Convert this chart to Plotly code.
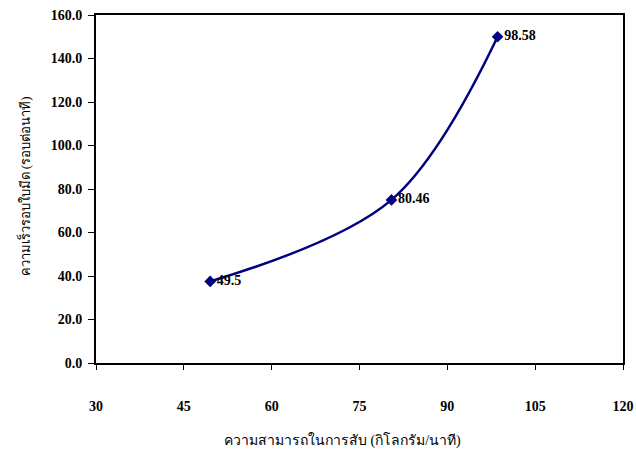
import plotly.graph_objects as go

capacity = [49.5, 80.46, 98.58]
speed = [37.5, 75.0, 150.0]
point_labels = ["49.5", "80.46", "98.58"]
x_ticks = [30, 45, 60, 75, 90, 105, 120]
y_ticks = [0, 20, 40, 60, 80, 100, 120, 140, 160]
y_tick_text = [f"{v:.1f}" for v in y_ticks]
x_title = "ความสามารถในการสับ (กิโลกรัม/นาที)"
y_title = "ความเร็วรอบใบมีด (รอบต่อนาที)"

navy = "#000080"
serif = "Times New Roman, Liberation Serif, serif"

fig = go.Figure()
fig.add_trace(go.Scatter(
    x=capacity, y=speed, mode="lines+markers+text",
    line=dict(color=navy, width=2.5, shape="spline", smoothing=1.0),
    marker=dict(symbol="diamond", size=9, color=navy),
    text=point_labels, textposition="middle right",
    textfont=dict(family=serif, size=14, color="black", weight="bold"),
    cliponaxis=False, showlegend=False,
))

fig.update_layout(
    width=636, height=457,
    margin=dict(l=96, r=13, t=15, b=94, autoexpand=False),
    paper_bgcolor="white", plot_bgcolor="white",
    font=dict(family=serif, color="black"),
    annotations=[
        dict(text=x_title, xref="paper", yref="paper", x=0.4668, y=-0.2213,
             xanchor="center", yanchor="middle", showarrow=False,
             font=dict(family=serif, size=14, color="black")),
        dict(text=y_title, xref="paper", yref="paper", x=-0.135, y=0.507,
             xanchor="center", yanchor="middle", showarrow=False, textangle=-90,
             font=dict(family=serif, size=13, color="black")),
    ],
)
fig.update_xaxes(
    range=[30, 120], tickvals=x_ticks, ticktext=[str(v) for v in x_ticks],
    showgrid=False, zeroline=False, showline=True, linecolor="black",
    linewidth=2, mirror=True, ticks="outside", ticklen=5, tickwidth=1,
    tickcolor="black", ticklabelstandoff=24, automargin=False,
    tickfont=dict(family=serif, size=14, weight="bold"),
)
fig.update_yaxes(
    range=[0, 160], tickvals=y_ticks, ticktext=y_tick_text,
    showgrid=False, zeroline=False, showline=True, linecolor="black",
    linewidth=2, mirror=True, ticks="outside", ticklen=6, tickwidth=1,
    tickcolor="black", automargin=False, ticklabelstandoff=3,
    tickfont=dict(family=serif, size=14, weight="bold"),
)

fig.write_html(
    "out.html",
    config={"displayModeBar": False},
    post_script="document.body.style.margin='0';document.body.style.overflow='hidden';",
)
